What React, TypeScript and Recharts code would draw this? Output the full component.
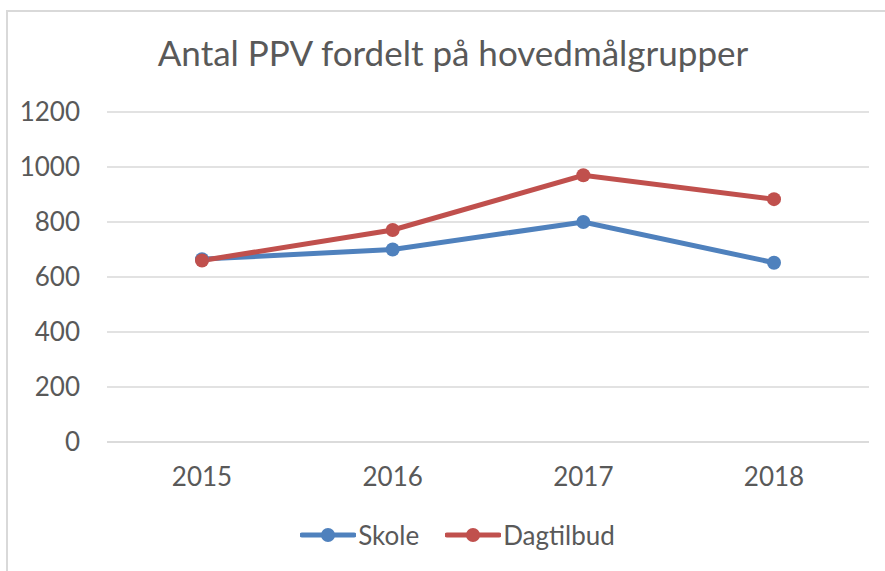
import { CartesianGrid, Line, LineChart, XAxis, YAxis } from "recharts";

const years = ["2015", "2016", "2017", "2018"];
const skole = [665, 700, 800, 652];
const dagtilbud = [660, 771, 970, 883];
const yTicks = [0, 200, 400, 600, 800, 1000, 1200];

const BLUE = "#4f81bd";
const RED = "#c0504d";
const TEXT = "#595959";
const FONT = "Lato, 'Open Sans', sans-serif";

const data = years.map((year, i) => ({ year, skole: skole[i], dagtilbud: dagtilbud[i] }));

const series = [
  { key: "skole", name: "Skole", color: BLUE },
  { key: "dagtilbud", name: "Dagtilbud", color: RED },
];

function LegendContent() {
  return (
    <div style={{ display: "flex", justifyContent: "center", gap: 26, fontFamily: FONT, fontSize: 26, color: TEXT }}>
      {series.map((s) => (
        <div key={s.key} style={{ display: "flex", alignItems: "center" }}>
          <svg width={56} height={20}>
            <line x1={2} y1={10} x2={54} y2={10} stroke={s.color} strokeWidth={5} strokeLinecap="round" />
            <circle cx={28} cy={10} r={7} fill={s.color} />
          </svg>
          <span style={{ marginLeft: 2 }}>{s.name}</span>
        </div>
      ))}
    </div>
  );
}

export default function App() {
  return (
    <div style={{ position: "absolute", left: 0, top: 0, width: 885, height: 571, background: "#fff", overflow: "hidden" }}>
      {/* chart frame, only top and left edges visible */}
      <div
        style={{
          position: "absolute",
          left: 6,
          top: 10,
          width: 890,
          height: 580,
          borderTop: "2px solid #d9d9d9",
          borderLeft: "2px solid #d9d9d9",
        }}
      />
      <div
        style={{
          position: "absolute",
          left: 0,
          top: 31,
          width: 906,
          textAlign: "center",
          fontFamily: FONT,
          fontSize: 35,
          color: TEXT,
        }}
      >
        Antal PPV fordelt på hovedmålgrupper
      </div>
      <div style={{ position: "absolute", left: 0, top: 0 }}>
        <LineChart width={885} height={571} data={data} margin={{ top: 112, right: 16, bottom: 0, left: 0 }}>
          <CartesianGrid horizontal vertical={false} stroke="#d9d9d9" strokeWidth={1.5} />
          <XAxis
            dataKey="year"
            axisLine={{ stroke: "#d9d9d9", strokeWidth: 1.5 }}
            tickLine={false}
            tickMargin={20}
            height={129}
            padding={{ left: 95, right: 95 }}
            interval={0}
            tick={{ fontSize: 26, fill: TEXT, fontFamily: FONT }}
          />
          <YAxis
            domain={[0, 1200]}
            ticks={yTicks}
            interval={0}
            width={107}
            axisLine={false}
            tickLine={false}
            tickMargin={21}
            tick={{ fontSize: 26, fill: TEXT, fontFamily: FONT }}
          />
          {series.map((s) => (
            <Line
              key={s.key}
              dataKey={s.key}
              name={s.name}
              stroke={s.color}
              strokeWidth={5}
              dot={{ r: 7, fill: s.color, stroke: s.color, strokeWidth: 0 }}
              activeDot={false}
              isAnimationActive={false}
            />
          ))}
        </LineChart>
      </div>
      <div style={{ position: "absolute", left: 15, top: 519, width: 885 }}>
        <LegendContent />
      </div>
    </div>
  );
}
